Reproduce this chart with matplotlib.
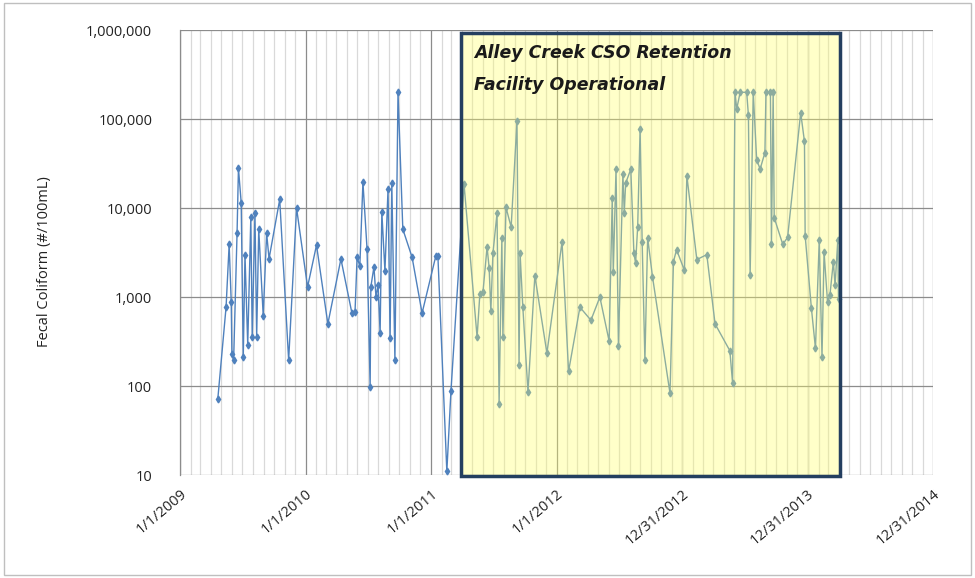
import matplotlib
matplotlib.use('Agg')
import matplotlib.pyplot as plt
import matplotlib.dates as mdates
import matplotlib.transforms as mtransforms
from matplotlib.patches import Rectangle
from matplotlib.ticker import FuncFormatter, FixedLocator
import pandas as pd

# sampling dates and fecal coliform results (#/100mL)
dates = [
    "2009-04-21", "2009-05-15", "2009-05-24", "2009-05-30", "2009-06-01", "2009-06-06",
    "2009-06-16", "2009-06-20", "2009-06-28", "2009-07-04", "2009-07-09", "2009-07-17",
    "2009-07-26", "2009-07-30", "2009-08-07", "2009-08-12", "2009-08-18", "2009-08-31",
    "2009-09-10", "2009-09-17", "2009-10-18", "2009-11-13", "2009-12-06", "2010-01-07",
    "2010-02-02", "2010-03-07", "2010-04-14", "2010-05-16", "2010-05-25", "2010-05-31",
    "2010-06-08", "2010-06-17", "2010-06-29", "2010-07-08", "2010-07-10", "2010-07-19",
    "2010-07-25", "2010-07-31", "2010-08-06", "2010-08-11", "2010-08-20", "2010-08-29",
    "2010-09-04", "2010-09-09", "2010-09-18", "2010-09-27", "2010-10-11", "2010-11-07",
    "2010-12-06", "2011-01-15", "2011-01-21", "2011-02-16", "2011-02-28", "2011-04-07",
    "2011-05-15", "2011-05-23", "2011-06-01", "2011-06-13", "2011-06-19", "2011-06-24",
    "2011-06-30", "2011-07-12", "2011-07-18", "2011-07-26", "2011-07-29", "2011-08-07",
    "2011-08-22", "2011-09-08", "2011-09-14", "2011-09-17", "2011-09-25", "2011-10-10",
    "2011-10-30", "2011-12-04", "2012-01-17", "2012-02-05", "2012-03-09", "2012-04-10",
    "2012-05-06", "2012-06-02", "2012-06-11", "2012-06-14", "2012-06-22", "2012-06-29",
    "2012-07-12", "2012-07-16", "2012-07-20", "2012-08-04", "2012-08-13", "2012-08-18",
    "2012-08-24", "2012-08-31", "2012-09-06", "2012-09-14", "2012-09-22", "2012-10-06",
    "2012-11-26", "2012-12-06", "2012-12-15", "2013-01-07", "2013-01-14", "2013-02-12",
    "2013-03-13", "2013-04-06", "2013-05-19", "2013-05-27", "2013-06-03", "2013-06-08",
    "2013-06-18", "2013-07-07", "2013-07-12", "2013-07-17", "2013-07-26", "2013-08-05",
    "2013-08-15", "2013-08-29", "2013-09-01", "2013-09-14", "2013-09-17", "2013-09-22",
    "2013-09-25", "2013-10-20", "2013-11-03", "2013-12-11", "2013-12-22", "2013-12-24",
    "2014-01-11", "2014-01-23", "2014-02-03", "2014-02-11", "2014-02-17", "2014-02-27",
    "2014-03-06", "2014-03-16", "2014-03-21", "2014-03-29", "2014-03-31",
]
values = [
    72, 770, 3900, 885, 230, 196,
    5300, 28000, 11500, 210, 3000, 290,
    7900, 360, 8700, 360, 5800, 620,
    5200, 2700, 12500, 196, 10000, 1300,
    3840, 500, 2680, 660, 680, 2800,
    2230, 19600, 3460, 97, 1300, 2180,
    1000, 1370, 395, 9000, 1960, 16300,
    345, 19000, 196, 200000, 5800, 2800,
    660, 2900, 2900, 11, 88, 18600,
    355, 1080, 1130, 3650, 2140, 690,
    3100, 8800, 63, 4600, 355, 10200,
    6100, 95000, 174, 3100, 770, 86,
    1740, 235, 4160, 146, 770, 550,
    1000, 320, 13000, 1900, 27400, 280,
    24000, 8900, 19000, 27400, 3100, 2400,
    6200, 77000, 4200, 196, 4650, 1700,
    83, 2500, 3400, 2000, 23000, 2640,
    3000, 500, 250, 108, 200000, 130000,
    200000, 200000, 110000, 1770, 200000, 35000,
    27400, 42000, 200000, 200000, 4000, 200000,
    7800, 3900, 4700, 118000, 56000, 4900,
    760, 265, 4350, 215, 3200, 890,
    1050, 2500, 1350, 4400, 950,
]

tick_dates = ["2009-01-01", "2010-01-01", "2011-01-01", "2012-01-01",
              "2012-12-31", "2013-12-31", "2014-12-31"]
tick_labels = ["1/1/2009", "1/1/2010", "1/1/2011", "1/1/2012",
               "12/31/2012", "12/31/2013", "12/31/2014"]
y_ticks = [10, 100, 1000, 10000, 100000, 1000000]

box_start = "2011-03-28"
box_end = "2014-04-03"
box_text = "Alley Creek CSO Retention\nFacility Operational"

x = pd.to_datetime(dates)
xt = mdates.date2num(pd.to_datetime(tick_dates))

fig = plt.figure(figsize=(9.75, 5.78), dpi=100)
ax = fig.add_axes([0.1846, 0.178, 0.7724, 0.770])

# data line
ax.plot(x, values, color='#4F81BD', linewidth=1.0, marker='d', markersize=3.5,
        markerfacecolor='#4F81BD', markeredgecolor='#4F81BD', zorder=3)

ax.set_yscale('log')
ax.set_ylim(10, 1000000)
ax.set_xlim(xt[0], xt[-1])

ax.yaxis.set_major_locator(FixedLocator(y_ticks))
ax.yaxis.set_minor_locator(FixedLocator([]))
ax.yaxis.set_major_formatter(FuncFormatter(lambda v, p: f'{v:,.0f}'))

ax.set_xticks(xt)
ax.set_xticklabels(tick_labels, rotation=40, ha='right', va='top',
                   rotation_mode='anchor')
ax.xaxis.set_minor_locator(mdates.MonthLocator())

# gridlines
ax.grid(which='major', axis='both', color='#8C8C8C', linewidth=0.9, zorder=1)
ax.grid(which='minor', axis='x', color='#D9D9D9', linewidth=0.9, zorder=0)
ax.set_axisbelow(True)

for s in ['top', 'right', 'bottom']:
    ax.spines[s].set_visible(False)
ax.spines['left'].set_color('#8C8C8C')
ax.spines['left'].set_linewidth(0.9)

ax.tick_params(axis='both', which='both', length=0, labelsize=10.5,
               labelcolor='#222222')
ax.tick_params(axis='y', pad=20)
ax.tick_params(axis='x', pad=8)
for lab in ax.get_yticklabels() + ax.get_xticklabels():
    lab.set_fontfamily('Open Sans')

ax.set_ylabel('Fecal Coliform (#/100mL)', fontsize=10.5, family='Open Sans',
              labelpad=4, color='#222222')
ax.yaxis.set_label_coords(-0.17, 0.48)

# operational period box
b0 = mdates.date2num(pd.to_datetime(box_start))
b1 = mdates.date2num(pd.to_datetime(box_end))
trans = mtransforms.blended_transform_factory(ax.transData, ax.transAxes)
rect = Rectangle((b0, -0.003), b1 - b0, 0.996, transform=trans,
                 facecolor=(1.0, 1.0, 0.4, 0.35), edgecolor='#243F60',
                 linewidth=2.5, zorder=4, clip_on=False)
ax.add_patch(rect)
ax.text(b0 + 38, 0.968, box_text, transform=trans, ha='left', va='top',
        fontsize=12.5, fontweight='bold', fontstyle='italic',
        family='DejaVu Sans', color='#1A1A1A', linespacing=1.95, zorder=5)

# outer chart border
fig.patches.append(Rectangle((0.004, 0.005), 0.992, 0.99, transform=fig.transFigure,
                             fill=False, edgecolor='#BFBFBF', linewidth=1.0))

plt.savefig('out.png', dpi=100)
plt.close()
